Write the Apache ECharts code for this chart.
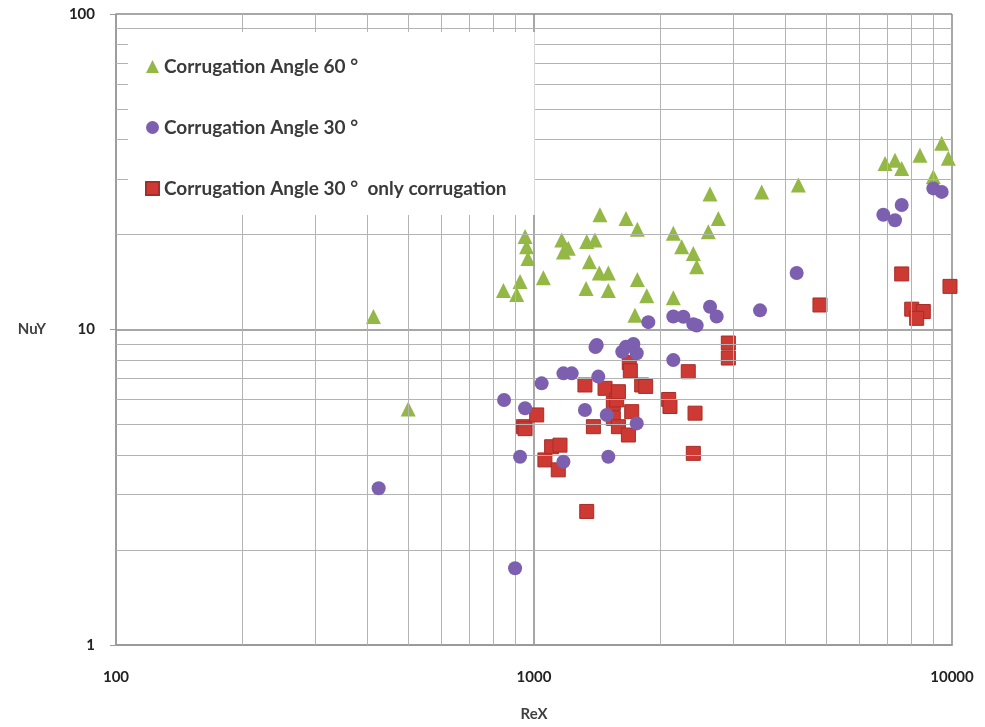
<!DOCTYPE html>
<html>
<head>
<meta charset="utf-8">
<script src="https://cdn.jsdelivr.net/npm/echarts@6/dist/echarts.min.js"></script>
<style>
  html, body { margin: 0; padding: 0; background: #fff; }
  #chart { width: 985px; height: 727px; }
</style>
</head>
<body>
<div id="chart"></div>
<script>
// Corrugation angle 60°: Reynolds number vs Nusselt number
const reX60 = [413, 500, 952, 960, 967, 926, 845, 909, 1053, 1165, 1208, 1176, 1337, 1399, 1438, 1660,
  1767, 1357, 1433, 1506, 1332, 1506, 1767, 1861, 1744, 2154, 2256, 2405, 2450, 2612, 2760, 2637,
  3505, 4290, 2154, 6917, 7305, 7580, 8382, 9448, 9800, 9023];
const nuY60 = [11.0, 5.6, 19.7, 18.3, 16.8, 14.2, 13.3, 12.9, 14.6, 19.2, 18.1, 17.6, 19.0, 19.2, 23.1, 22.5,
  20.8, 16.4, 15.1, 15.1, 13.5, 13.3, 14.4, 12.8, 11.1, 20.2, 18.3, 17.4, 15.8, 20.4, 22.5, 26.9,
  27.3, 28.7, 12.6, 33.6, 34.4, 32.4, 35.7, 38.9, 34.9, 30.5];

// Corrugation angle 30°
const reX30 = [425, 901, 848, 1043, 952, 1176, 1231, 1413, 1403, 1425, 1324, 926, 1506, 1176, 1660,
  1729, 1761, 1626, 1877, 2154, 1761, 1493, 2154, 2277, 2405, 2450, 2637, 2735, 3473, 4250,
  6851, 7305, 7580, 9023, 9448];
const nuY30 = [3.14, 1.75, 5.98, 6.75, 5.63, 7.26, 7.26, 8.93, 8.8, 7.09, 5.56, 3.95, 3.95, 3.81, 8.82,
  9.0, 8.41, 8.5, 10.55, 8.0, 5.04, 5.36, 11.0, 10.98, 10.4, 10.3, 11.8, 11.0, 11.5, 15.1,
  23.1, 22.2, 24.8, 28.0, 27.3];

// Corrugation angle 30°, corrugation only
const reX30c = [943, 952, 1015, 1062, 1102, 1154, 1143, 1337, 1324, 1479, 1387, 1548, 1548, 1577, 1592,
  1592, 1682, 1690, 1700, 1713, 1810, 1850, 2100, 2115, 2339, 2428, 2405, 2917, 2917, 4832,
  7580, 9890, 8010, 8537, 8232];
const nuY30c = [4.92, 4.85, 5.36, 3.86, 4.25, 4.30, 3.59, 2.65, 6.67, 6.51, 4.92, 5.83, 5.23, 5.98, 6.35,
  4.92, 4.63, 7.85, 7.4, 5.49, 6.67, 6.6, 6.0, 5.7, 7.35, 5.43, 4.05, 9.06, 8.12, 11.96,
  15.0, 13.7, 11.6, 11.4, 10.85];

// Axis ranges and labelled ticks
const xTicks = [100, 1000, 10000];
const yTicks = [1, 10, 100];
// Intermediate log grid lines (2..9 of each decade)
const xMinorGrid = [200, 300, 400, 500, 600, 700, 800, 900, 2000, 3000, 4000, 5000, 6000, 7000, 8000, 9000];
const yMinorGrid = [2, 3, 4, 5, 6, 7, 8, 9, 20, 30, 40, 50, 60, 70, 80, 90];

const names = ['Corrugation Angle 60 °', 'Corrugation Angle 30 °', 'Corrugation Angle 30 °  only corrugation'];

const zip = (xs, ys) => xs.map((x, i) => [x, ys[i]]);

const FONT = 'Lato, "Open Sans", sans-serif';
const chart = echarts.init(document.getElementById('chart'), null, { renderer: 'canvas' });

chart.setOption({
  backgroundColor: '#ffffff',
  animation: false,
  textStyle: { fontFamily: FONT },
  grid: { left: 116, right: 33, top: 14, bottom: 82, containLabel: false },
  xAxis: {
    type: 'log', logBase: 10, min: xTicks[0], max: xTicks[xTicks.length - 1],
    name: 'ReX', nameLocation: 'middle', nameGap: 62,
    nameTextStyle: { fontFamily: FONT, fontWeight: 'bold', fontSize: 15, color: '#404040' },
    axisLine: { show: true, lineStyle: { color: '#9a9a9a', width: 2 } },
    axisTick: { show: false },
    axisLabel: { margin: 25, fontFamily: FONT, fontWeight: 'bold', fontSize: 15, color: '#222',
      formatter: v => String(Math.round(v)) },
    splitLine: { show: true, lineStyle: { color: '#8a8a8a', width: 1.5 } }
  },
  yAxis: {
    type: 'log', logBase: 10, min: yTicks[0], max: yTicks[yTicks.length - 1],
    name: 'NuY', nameLocation: 'middle', nameGap: 70, nameRotate: 0,
    nameTextStyle: { fontFamily: FONT, fontWeight: 'bold', fontSize: 15, color: '#404040' },
    axisLine: { show: true, lineStyle: { color: '#9a9a9a', width: 1.5 } },
    axisTick: { show: true, length: 6, lineStyle: { color: '#9a9a9a' } },
    axisLabel: { margin: 21, fontFamily: FONT, fontWeight: 'bold', fontSize: 15, color: '#222',
      formatter: v => String(Math.round(v)) },
    splitLine: { show: true, lineStyle: { color: '#8a8a8a', width: 1.5 } }
  },
  legend: {
    orient: 'vertical', left: 128, top: 32,
    padding: [25, 28, 17, 17],
    itemGap: 42, itemWidth: 13, itemHeight: 13,
    backgroundColor: '#ffffff',
    z: 20,
    data: names,
    textStyle: { fontFamily: FONT, fontWeight: 'bold', fontSize: 19, color: '#3a3a3a' }
  },
  series: [
    {
      name: 'grid', type: 'line', data: [], silent: true, z: 1,
      markLine: {
        silent: true, symbol: ['none', 'none'], label: { show: false },
        lineStyle: { color: '#b3b3b3', width: 1, type: 'solid' },
        data: xMinorGrid.map(v => ({ xAxis: v })).concat(yMinorGrid.map(v => ({ yAxis: v })))
      }
    },
    {
      name: names[0], type: 'scatter', symbol: 'triangle', symbolSize: 15, z: 3,
      itemStyle: { color: '#93b846', opacity: 1 },
      data: zip(reX60, nuY60)
    },
    {
      name: names[2], type: 'scatter', symbol: 'rect', symbolSize: 14, z: 4,
      itemStyle: { color: '#cc3a33', borderColor: '#a92c28', borderWidth: 1, opacity: 1 },
      data: zip(reX30c, nuY30c)
    },
    {
      name: names[1], type: 'scatter', symbol: 'circle', symbolSize: 14, z: 5,
      itemStyle: { color: '#7c5fae', opacity: 1 },
      data: zip(reX30, nuY30)
    }
  ]
});
</script>
</body>
</html>
